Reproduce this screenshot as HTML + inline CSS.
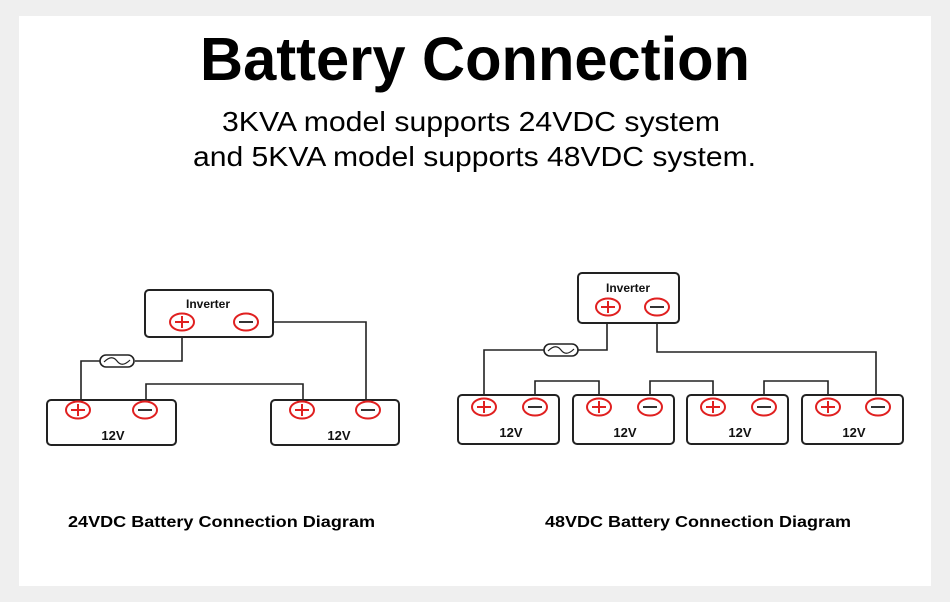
<!DOCTYPE html>
<html><head><meta charset="utf-8"><style>
html,body{margin:0;padding:0;background:#efefef;}
svg{display:block;}
text{font-family:"Liberation Sans",Arial,sans-serif;}
</style></head><body>
<svg width="950" height="602" viewBox="0 0 950 602" xmlns="http://www.w3.org/2000/svg">
<rect x="0" y="0" width="950" height="602" fill="#efefef"/>
<rect x="19" y="16" width="912" height="570" fill="#fff"/>
<text x="475" y="80" font-size="61" font-weight="bold" text-anchor="middle" textLength="550" lengthAdjust="spacingAndGlyphs">Battery Connection</text>
<text x="471" y="131" font-size="28" text-anchor="middle" textLength="498" lengthAdjust="spacingAndGlyphs">3KVA model supports 24VDC system</text>
<text x="474.5" y="166" font-size="28" text-anchor="middle" textLength="563" lengthAdjust="spacingAndGlyphs">and 5KVA model supports 48VDC system.</text>
<text x="221.5" y="527" font-size="16" font-weight="bold" text-anchor="middle" textLength="307" lengthAdjust="spacingAndGlyphs">24VDC Battery Connection Diagram</text>
<text x="698" y="527" font-size="16" font-weight="bold" text-anchor="middle" textLength="306" lengthAdjust="spacingAndGlyphs">48VDC Battery Connection Diagram</text>

<defs>
<g id="p"><ellipse cx="0" cy="0" rx="12" ry="8.5" fill="none" stroke="#e02020" stroke-width="2"/><path d="M-7 0H7M0 -6V6" stroke="#e02020" stroke-width="2"/></g>
<g id="m"><ellipse cx="0" cy="0" rx="12" ry="8.5" fill="none" stroke="#e02020" stroke-width="2"/><path d="M-7 0H7" stroke="#333" stroke-width="2"/></g>
<g id="f"><rect x="0" y="-6" width="34" height="12" rx="6" fill="#fff" stroke="#222" stroke-width="1.6"/><path d="M4 1 C10 -5 14 -4 17 0 C20 4 24 5 30 -1" fill="none" stroke="#222" stroke-width="1.2"/></g>
</defs>

<g fill="none" stroke="#222" stroke-width="1.6">
<path d="M182 337V361H135M100 361H81V400"/>
<path d="M146 400V384H303V400"/>
<path d="M273 322H366V400"/>
<path d="M607 323V350H569M544 350H484V395"/>
<path d="M657 323V352H876V395"/>
<path d="M535 395V381H599V395"/>
<path d="M650 395V381H713V395"/>
<path d="M764 395V381H828V395"/>
</g>
<g fill="#fff" stroke="#222" stroke-width="2">
<rect x="145" y="290" width="128" height="47" rx="4"/>
<rect x="47" y="400" width="129" height="45" rx="4"/>
<rect x="271" y="400" width="128" height="45" rx="4"/>
<rect x="578" y="273" width="101" height="50" rx="4"/>
<rect x="458" y="395" width="101" height="49" rx="4"/>
<rect x="573" y="395" width="101" height="49" rx="4"/>
<rect x="687" y="395" width="101" height="49" rx="4"/>
<rect x="802" y="395" width="101" height="49" rx="4"/>
</g>
<use href="#f" x="100" y="361"/>
<use href="#f" x="544" y="350"/>

<g font-weight="bold" text-anchor="middle" fill="#111">
<text x="208" y="308" font-size="12">Inverter</text>
<text x="628" y="292" font-size="12">Inverter</text>
<g font-size="13">
<text x="113" y="440">12V</text>
<text x="339" y="440">12V</text>
<text x="511" y="437">12V</text>
<text x="625" y="437">12V</text>
<text x="740" y="437">12V</text>
<text x="854" y="437">12V</text>
</g>
</g>
<use href="#p" x="182" y="322"/><use href="#m" x="246" y="322"/>
<use href="#p" x="78" y="410"/><use href="#m" x="145" y="410"/>
<use href="#p" x="302" y="410"/><use href="#m" x="368" y="410"/>
<use href="#p" x="608" y="307"/><use href="#m" x="657" y="307"/>
<use href="#p" x="484" y="407"/><use href="#m" x="535" y="407"/>
<use href="#p" x="599" y="407"/><use href="#m" x="650" y="407"/>
<use href="#p" x="713" y="407"/><use href="#m" x="764" y="407"/>
<use href="#p" x="828" y="407"/><use href="#m" x="878" y="407"/>
</svg>
</body></html>
